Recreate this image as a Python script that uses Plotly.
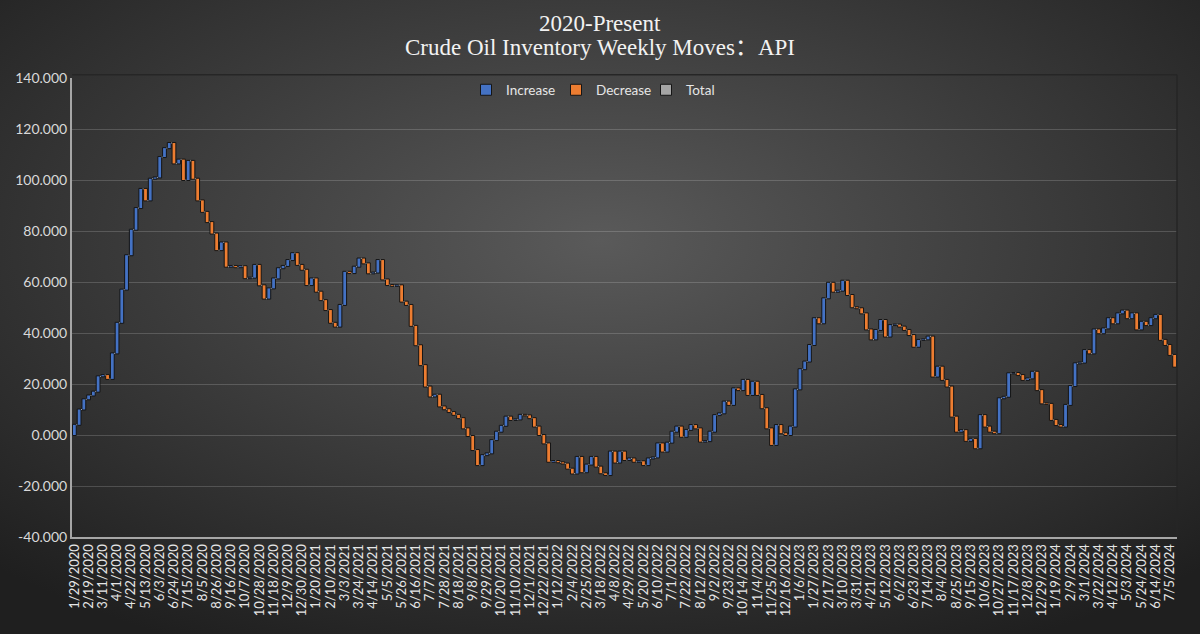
import base64
import plotly.graph_objects as go

# weekly API crude inventory moves (million bbl), one value per report, 1/29/2020 onward
weekly_change = [
    4.0, 6.0, 4.0, 1.5, 1.5, 6.0, 0.5, -1.5, 10.0, 12.0,
    13.0, 13.5, 10.0, 8.5, 7.5, -4.5, 8.5, 0.5, 8.0, 3.5,
    2.0, -8.0, 1.5, -8.0, 7.5, -7.0, -8.5, -4.5, -4.0, -4.5,
    -6.5, 3.0, -9.5, 0.3, -0.5, 0.4, -4.7, 0.2, 5.0, -8.0,
    -5.2, 4.0, 3.9, 4.0, 0.9, 2.3, 2.7, -4.6, -1.9, -6.0,
    2.6, -5.2, -3.3, -3.9, -5.0, -1.5, 8.5, 13.0, -0.5, 2.5,
    3.2, -1.9, -3.9, 0.3, 4.9, -7.6, -2.2, -0.3, 0.2, -6.4,
    -1.3, -8.2, -7.6, -7.8, -8.4, -3.9, 0.7, -4.6, -1.1, -1.1,
    -1.1, -1.3, -4.0, -3.0, -5.5, -5.9, 3.9, 0.7, 5.2, 3.3,
    2.3, 3.6, -1.3, 0.2, 1.8, -0.2, -1.1, -3.3, -3.3, -3.3,
    -7.2, 0.3, -0.5, -0.5, -2.0, -1.9, 6.5, -6.0, 3.0, 3.0,
    -3.8, -2.6, -0.7, 9.2, -4.3, 4.3, -3.3, 0.6, -1.3, 0.2,
    -1.5, 2.6, 0.4, 5.5, -3.2, 3.5, 4.3, 2.0, -4.0, 2.7,
    1.9, -1.3, -5.2, 0.2, 3.7, 6.5, 0.7, 4.6, -1.3, 6.5,
    -0.7, 4.0, -5.9, 5.2, -5.2, -5.2, -7.9, -6.5, 7.8, -3.2,
    -0.7, 3.3, 14.6, 7.9, 3.0, 6.5, 10.5, -2.0, 9.8, 6.1,
    -3.5, 0.4, 3.9, -5.6, -4.8, -0.4, -2.0, -6.3, -3.9, 3.7,
    3.9, -6.5, 4.5, 0.2, -0.8, -1.3, -2.0, -4.6, 2.7, 0.2,
    1.1, -15.7, 3.9, -5.2, -2.6, -11.8, -5.9, 0.6, -4.2, 0.8,
    -3.7, 13.0, -4.5, -2.0, -0.6, 13.7, 0.6, 9.2, 0.1, -0.8,
    -1.9, 0.6, 2.6, -7.2, -5.2, -0.2, -6.3, -2.0, -0.6, 8.5,
    7.4, 8.9, 0.3, 4.9, -1.3, 9.4, -1.5, 1.9, 4.0, -2.0,
    3.9, 1.1, -3.0, 1.9, -6.3, 3.0, -1.3, 2.7, 1.3, -9.8,
    -2.0, -3.9, -4.6,
]

# every third report date is labelled on the axis
tick_labels = [
    "1/29/2020", "2/19/2020", "3/11/2020", "4/1/2020", "4/22/2020", "5/13/2020",
    "6/3/2020", "6/24/2020", "7/15/2020", "8/5/2020", "8/26/2020", "9/16/2020",
    "10/7/2020", "10/28/2020", "11/18/2020", "12/9/2020", "12/30/2020", "1/20/2021",
    "2/10/2021", "3/3/2021", "3/24/2021", "4/14/2021", "5/5/2021", "5/26/2021",
    "6/16/2021", "7/7/2021", "7/28/2021", "8/18/2021", "9/8/2021", "9/29/2021",
    "10/20/2021", "11/10/2021", "12/1/2021", "12/22/2021", "1/12/2022", "2/4/2022",
    "2/25/2022", "3/18/2022", "4/8/2022", "4/29/2022", "5/20/2022", "6/10/2022",
    "7/1/2022", "7/22/2022", "8/12/2022", "9/2/2022", "9/23/2022", "10/14/2022",
    "11/4/2022", "11/25/2022", "12/16/2022", "1/6/2023", "1/27/2023", "2/17/2023",
    "3/10/2023", "3/31/2023", "4/21/2023", "5/12/2023", "6/2/2023", "6/23/2023",
    "7/14/2023", "8/4/2023", "8/25/2023", "9/15/2023", "10/6/2023", "10/27/2023",
    "11/17/2023", "12/8/2023", "12/29/2023", "1/19/2024", "2/9/2024", "3/1/2024",
    "3/22/2024", "4/12/2024", "5/3/2024", "5/24/2024", "6/14/2024", "7/5/2024",
]

y_ticks = [-40, -20, 0, 20, 40, 60, 80, 100, 120, 140]
legend_names = ["Increase", "Decrease", "Total"]
legend_colors = ["#4472C4", "#ED7D31", "#A5A5A5"]
title_lines = ["2020-Present", "Crude Oil Inventory Weekly Moves：API"]

weeks = list(range(len(weekly_change)))

W, H = 1200, 634
ML, MR, MT, MB = 72, 23, 78, 97
pw, ph = W - ML - MR, H - MT - MB


def py(px):
    # pixel row -> paper y
    return (H - MB - px) / ph


# dark radial background, like the Excel chart style
svg = (
    '<svg xmlns="http://www.w3.org/2000/svg" width="1200" height="634">'
    '<defs><radialGradient id="g" cx="50%" cy="38%" r="72%">'
    '<stop offset="0" stop-color="#5a5a5a"/><stop offset="1" stop-color="#1f1f1f"/>'
    '</radialGradient></defs><rect width="1200" height="634" fill="url(#g)"/></svg>'
)
bg_src = "data:image/svg+xml;base64," + base64.b64encode(svg.encode()).decode()

fig = go.Figure()

fig.add_trace(go.Waterfall(
    x=weeks,
    y=weekly_change,
    measure=["relative"] * len(weekly_change),
    increasing={"marker": {"color": legend_colors[0], "line": {"color": "#151515", "width": 1}}},
    decreasing={"marker": {"color": legend_colors[1], "line": {"color": "#151515", "width": 1}}},
    totals={"marker": {"color": legend_colors[2], "line": {"color": "#151515", "width": 1}}},
    connector={"line": {"color": "#b0b0b0", "width": 1, "dash": "dot"}},
    showlegend=False,
))

# legend keys
for name, color in zip(legend_names, legend_colors):
    fig.add_trace(go.Scatter(
        x=[None], y=[None], mode="markers", name=name,
        marker={"symbol": "square", "size": 11, "color": color,
                "line": {"color": "#151515", "width": 1}},
    ))

title_font = {"family": "Liberation Serif, Noto Sans CJK SC, serif", "size": 23, "color": "#f2f2f2"}
annotations = [
    {"text": title_lines[0], "xref": "paper", "yref": "paper",
     "x": (600 - ML) / pw, "y": py(23), "xanchor": "center", "yanchor": "middle",
     "showarrow": False, "font": title_font},
    {"text": title_lines[1], "xref": "paper", "yref": "paper",
     "x": (600 - ML) / pw, "y": py(47), "xanchor": "center", "yanchor": "middle",
     "showarrow": False, "font": title_font},
]

fig.update_layout(
    width=W, height=H,
    margin={"l": ML, "r": MR, "t": MT, "b": MB},
    paper_bgcolor="#2e2e2e",
    plot_bgcolor="rgba(0,0,0,0)",
    font={"family": "Lato, Open Sans, sans-serif", "color": "#d9d9d9", "size": 13},
    annotations=annotations,
    legend={
        "orientation": "h", "x": (601 - ML) / pw, "xanchor": "center",
        "y": py(90), "yanchor": "middle", "bgcolor": "rgba(0,0,0,0)",
        "font": {"size": 13.5, "color": "#e6e6e6"},
        "entrywidth": 45, "entrywidthmode": "pixels",
    },
    bargap=0.35,
    images=[{
        "source": bg_src, "xref": "paper", "yref": "paper",
        "x": -ML / pw, "y": 1 + MT / ph, "sizex": W / pw, "sizey": H / ph,
        "xanchor": "left", "yanchor": "top", "sizing": "stretch", "layer": "below",
    }],
    shapes=[
        {"type": "line", "xref": "paper", "yref": "paper", "x0": 0, "x1": 1,
         "y0": 1.007, "y1": 1.007, "line": {"color": "#262626", "width": 1.5}},
        {"type": "line", "xref": "paper", "yref": "paper", "x0": 1, "x1": 1,
         "y0": 0, "y1": 1.007, "line": {"color": "#262626", "width": 1.5}},
    ],
    hovermode="x",
)

fig.update_xaxes(
    range=[-0.5, len(weekly_change) - 0.5],
    tickmode="array",
    tickvals=weeks[::3],
    ticktext=tick_labels,
    tickangle=-90,
    tickfont={"size": 13, "color": "#e6e6e6"},
    showgrid=False, zeroline=False,
    showline=True, linecolor="#a6a6a6", linewidth=2,
    ticks="",
)

fig.update_yaxes(
    range=[-40, 140],
    tickmode="array",
    tickvals=y_ticks,
    ticktext=[f"{v:.3f}" for v in y_ticks],
    tickfont={"size": 14, "color": "#d9d9d9"},
    showgrid=True, gridcolor="rgba(255,255,255,0.17)", gridwidth=1,
    zeroline=False,
    showline=True, linecolor="#a6a6a6", linewidth=2,
    ticks="",
)

fig.write_html("out.html", config={"displayModeBar": False},
               post_script="document.body.style.margin='0';")
